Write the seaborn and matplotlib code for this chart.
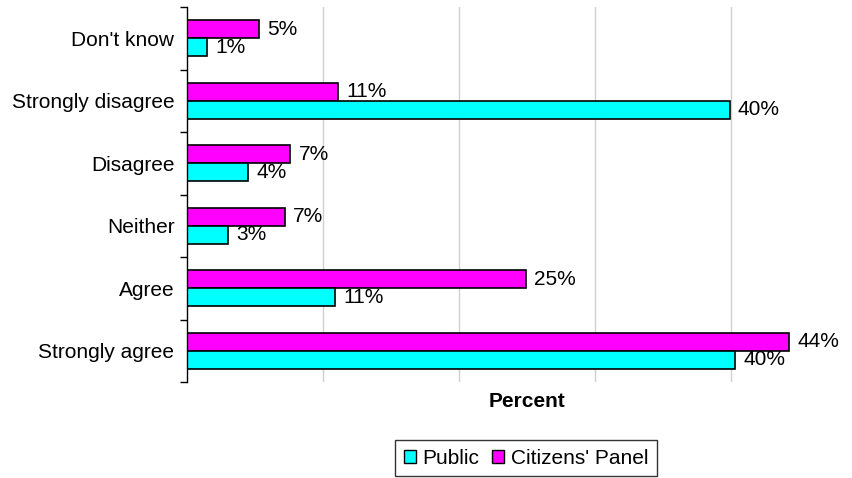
import matplotlib
matplotlib.use("Agg")
import matplotlib.pyplot as plt
import seaborn as sns
import pandas as pd
import numpy as np
from matplotlib.patches import Patch

categories = ["Don't know", "Strongly disagree", "Disagree", "Neither", "Agree", "Strongly agree"]
# bar lengths as drawn (unrounded), and the rounded labels shown on the chart
public = [1.5, 39.9, 4.5, 3.0, 10.9, 40.3]
panel = [5.3, 11.1, 7.6, 7.2, 24.9, 44.3]
public_labels = ["1%", "40%", "4%", "3%", "11%", "40%"]
panel_labels = ["5%", "11%", "7%", "7%", "25%", "44%"]
series = ["Citizens' Panel", "Public"]
colors = {"Public": "#00FFFF", "Citizens' Panel": "#FF00FF"}

df = pd.DataFrame({
    "Category": categories * 2,
    "Series": ["Public"] * len(categories) + ["Citizens' Panel"] * len(categories),
    "Value": public + panel,
})

sns.set_style("white")
plt.rcParams['font.family'] = ['Liberation Sans', 'DejaVu Sans']
plt.rcParams['text.color'] = 'black'
plt.rcParams['axes.labelcolor'] = 'black'
plt.rcParams['xtick.color'] = 'black'
plt.rcParams['ytick.color'] = 'black'
plt.rcParams['ytick.left'] = True

fig = plt.figure(figsize=(8.53, 4.78), dpi=100)
ax = fig.add_axes([187/853, 96/478, 680/853, 375/478])

sns.barplot(data=df, y="Category", x="Value", hue="Series", order=categories,
            hue_order=series, palette=colors, orient="h", width=0.58, saturation=1,
            edgecolor="black", linewidth=1.2, ax=ax, legend=False)

ax.set_xlim(0, 50)
ax.set_ylim(len(categories) - 0.5, -0.5)
ax.set_xticks([10, 20, 30, 40])
ax.set_xticklabels([])
ax.tick_params(axis="x", length=0)
ax.grid(axis="x", color="#d0d0d0", linewidth=1)
ax.set_axisbelow(True)
for s in ["top", "right", "bottom"]:
    ax.spines[s].set_visible(False)
ax.spines["left"].set_color("black")
ax.spines["left"].set_linewidth(1)

ax.tick_params(axis="y", which="major", left=False, length=0, labelsize=15, pad=9, labelcolor="black")
ax.set_yticks(np.arange(-0.5, len(categories), 1), minor=True)
ax.tick_params(axis="y", which="minor", left=True, length=5, width=1, color="black", direction="out")
ax.set_ylabel("")
ax.set_xlabel("Percent", fontsize=15, fontweight="bold", labelpad=4, color="black")

label_map = {"Citizens' Panel": panel_labels, "Public": public_labels}
for cont, name in zip(ax.containers, series):
    ax.bar_label(cont, labels=label_map[name], padding=6, fontsize=15, color="black")

handles = [Patch(facecolor=colors["Public"], edgecolor="black", label="Public"),
           Patch(facecolor=colors["Citizens' Panel"], edgecolor="black", label="Citizens' Panel")]
leg = fig.legend(handles=handles, loc="center", bbox_to_anchor=(526/853, 1 - 458/478),
                 ncol=2, frameon=True, fancybox=False, fontsize=15,
                 handlelength=0.6, handleheight=0.6, handletextpad=0.3,
                 columnspacing=0.6, borderpad=0.4)
leg.get_frame().set_edgecolor("black")
leg.get_frame().set_linewidth(1)

fig.savefig("out.png", dpi=100)
